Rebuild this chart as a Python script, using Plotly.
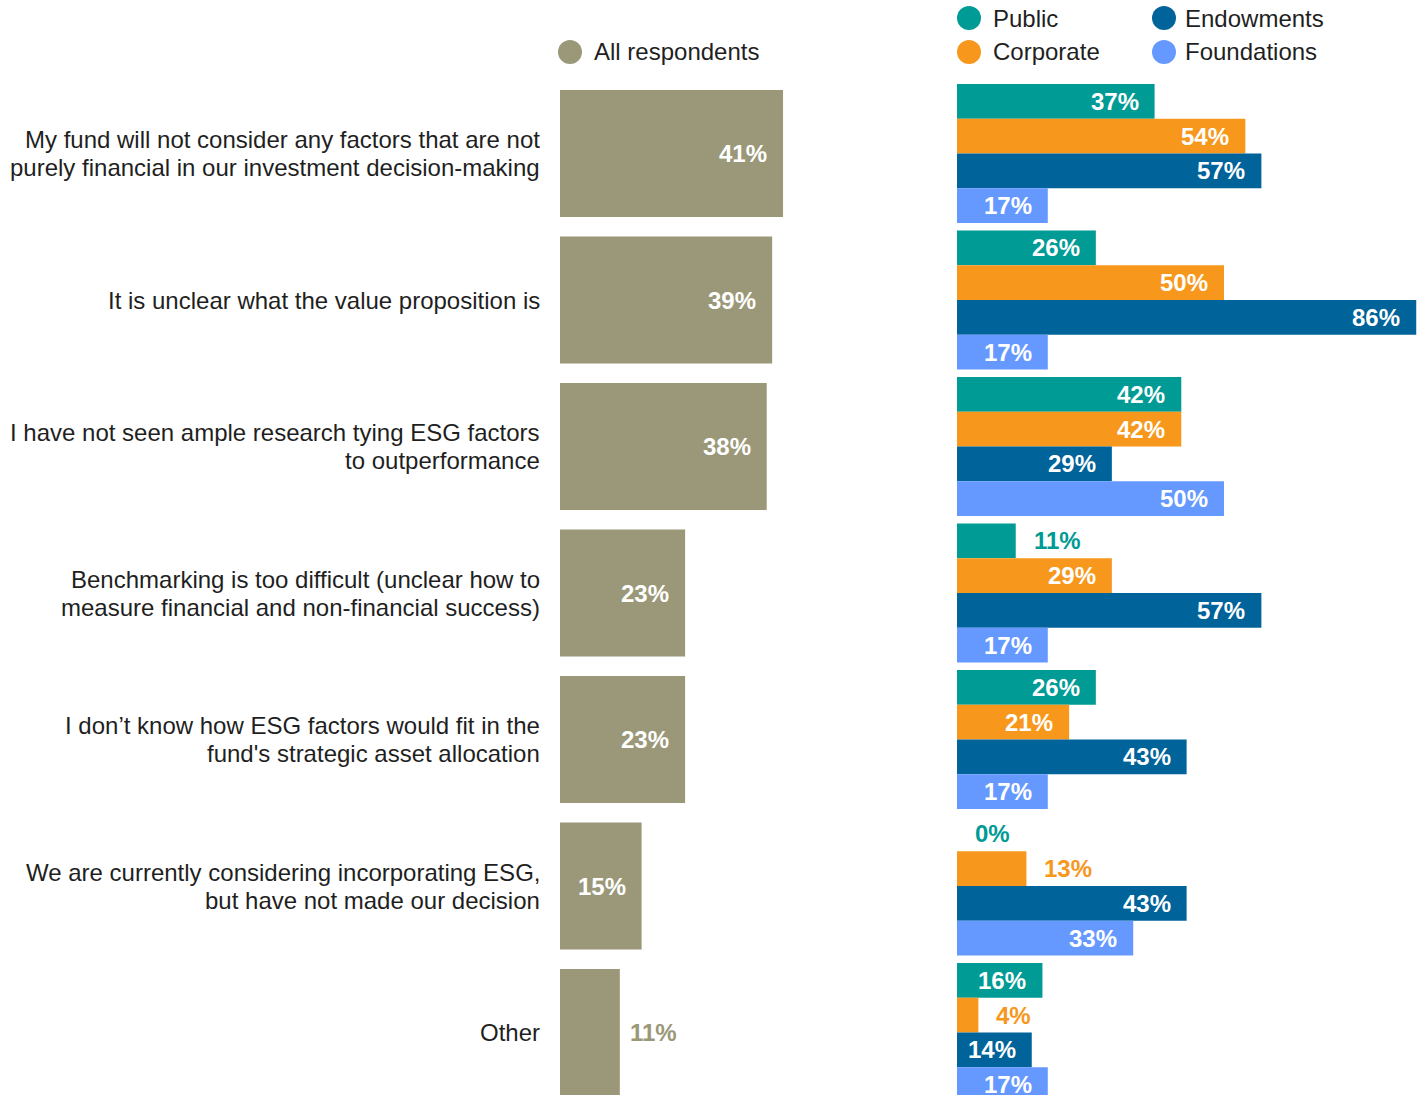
import plotly.graph_objects as go

# ---------------- data ----------------
categories = [
    "My fund will not consider any factors that are not<br>purely financial in our investment decision-making",
    "It is unclear what the value proposition is",
    "I have not seen ample research tying ESG factors<br>to outperformance",
    "Benchmarking is too difficult (unclear how to<br>measure financial and non-financial success)",
    "I don\u2019t know how ESG factors would fit in the<br>fund's strategic asset allocation",
    "We are currently considering incorporating ESG,<br>but have not made our decision",
    "Other",
]
all_respondents = [41, 39, 38, 23, 23, 15, 11]
public = [37, 26, 42, 11, 26, 0, 16]
corporate = [54, 50, 42, 29, 21, 13, 4]
endowments = [57, 86, 29, 57, 43, 43, 14]
foundations = [17, 17, 50, 17, 17, 33, 17]

left_name = "All respondents"
series_names = ["Public", "Corporate", "Endowments", "Foundations"]
series_values = [public, corporate, endowments, foundations]

# ---------------- styles / layout constants ----------------
W, H = 1425, 1095
FONT = "Arial, 'Liberation Sans', sans-serif"
TEXT_COLOR = "#1f1f1f"
OLIVE = "#9A9878"
SERIES_COLORS = ["#009B95", "#F7981D", "#00639A", "#6699FF"]

ROW_PX = 146.5          # pixels per category
TOP_PX = 80.25          # pixel where category band 0 starts
y_top = -0.5 - TOP_PX / ROW_PX
y_bot = -0.5 + (H - TOP_PX) / ROW_PX

LEFT_X0, LEFT_X1, LEFT_SCALE = 560, 900, 5.44
RIGHT_X0, RIGHT_X1, RIGHT_SCALE = 957, 1425, 5.34

LEFT_WIDTH = 0.867
GROUP_WIDTH = 0.949
n_series = len(series_names)
sub_w = GROUP_WIDTH / n_series

ys = list(range(len(categories)))

fig = go.Figure()

fig.add_trace(go.Bar(
    orientation="h", y=ys, x=all_respondents, width=LEFT_WIDTH,
    marker=dict(color=OLIVE, line=dict(width=0)),
    xaxis="x", yaxis="y", name=left_name, showlegend=False, hoverinfo="x",
))

for k, (name, vals, col) in enumerate(zip(series_names, series_values, SERIES_COLORS)):
    fig.add_trace(go.Bar(
        orientation="h", y=ys, x=vals, width=sub_w,
        offset=-GROUP_WIDTH / 2 + k * sub_w,
        marker=dict(color=col, line=dict(width=0)),
        xaxis="x2", yaxis="y2", name=name, showlegend=False, hoverinfo="x",
    ))

annotations = []
shapes = []

def bar_label(v, y, xref, yref, scale, color, out_gap):
    inside = v * scale >= 72
    annotations.append(dict(
        x=v, y=y, xref=xref, yref=yref, text=f"{v}%", showarrow=False,
        xanchor="right" if inside else "left", yanchor="middle",
        xshift=-14 if inside else out_gap,
        font=dict(family=FONT, size=24, color="white" if inside else color, weight="bold"),
    ))

for i, v in enumerate(all_respondents):
    bar_label(v, i, "x", "y", LEFT_SCALE, OLIVE, 8)

for k, (vals, col) in enumerate(zip(series_values, SERIES_COLORS)):
    for i, v in enumerate(vals):
        yc = i - GROUP_WIDTH / 2 + k * sub_w + sub_w / 2
        bar_label(v, yc, "x2", "y2", RIGHT_SCALE, col, 16)

# category labels (right aligned, line spacing 28px)
for i, cat in enumerate(categories):
    lines = cat.split("<br>")
    n = len(lines)
    for j, line in enumerate(lines):
        annotations.append(dict(
            x=542 / W, xref="paper", y=i, yref="y", text=line, showarrow=False,
            xanchor="right", yanchor="middle", yshift=((n - 1) / 2 - j) * 28,
            font=dict(family=FONT, size=24, color=TEXT_COLOR),
        ))

# custom legends (circle markers)
def legend_item(cx, cy, name, color, gap):
    r = 12
    shapes.append(dict(
        type="circle", xref="paper", yref="paper",
        x0=(cx - r) / W, x1=(cx + r) / W, y0=1 - (cy + r) / H, y1=1 - (cy - r) / H,
        fillcolor=color, line=dict(width=0),
    ))
    annotations.append(dict(
        x=(cx + gap) / W, y=1 - cy / H, xref="paper", yref="paper", text=name,
        showarrow=False, xanchor="left", yanchor="middle",
        font=dict(family=FONT, size=24, color=TEXT_COLOR),
    ))

legend_item(570, 52, left_name, OLIVE, 22)
legend_pos = [(969, 18, 22), (969, 52, 22), (1164, 18, 19), (1164, 52, 19)]
for (cx, cy, gap), name, col in zip(legend_pos, series_names, SERIES_COLORS):
    legend_item(cx, cy, name, col, gap)

fig.update_layout(
    width=W, height=H, autosize=False,
    margin=dict(l=0, r=0, t=0, b=0, pad=0),
    paper_bgcolor="white", plot_bgcolor="rgba(0,0,0,0)",
    barmode="overlay",
    showlegend=False,
    xaxis=dict(domain=[LEFT_X0 / W, LEFT_X1 / W], range=[0, (LEFT_X1 - LEFT_X0) / LEFT_SCALE],
               visible=False, fixedrange=True),
    yaxis=dict(domain=[0, 1], range=[y_bot, y_top], visible=False, anchor="x", fixedrange=True),
    xaxis2=dict(domain=[RIGHT_X0 / W, RIGHT_X1 / W], range=[0, (RIGHT_X1 - RIGHT_X0) / RIGHT_SCALE],
                visible=False, anchor="y2", fixedrange=True),
    yaxis2=dict(domain=[0, 1], range=[y_bot, y_top], visible=False, anchor="x2", fixedrange=True),
    annotations=annotations,
    shapes=shapes,
    font=dict(family=FONT),
)

fig.write_html("out.html", config=dict(displayModeBar=False))
